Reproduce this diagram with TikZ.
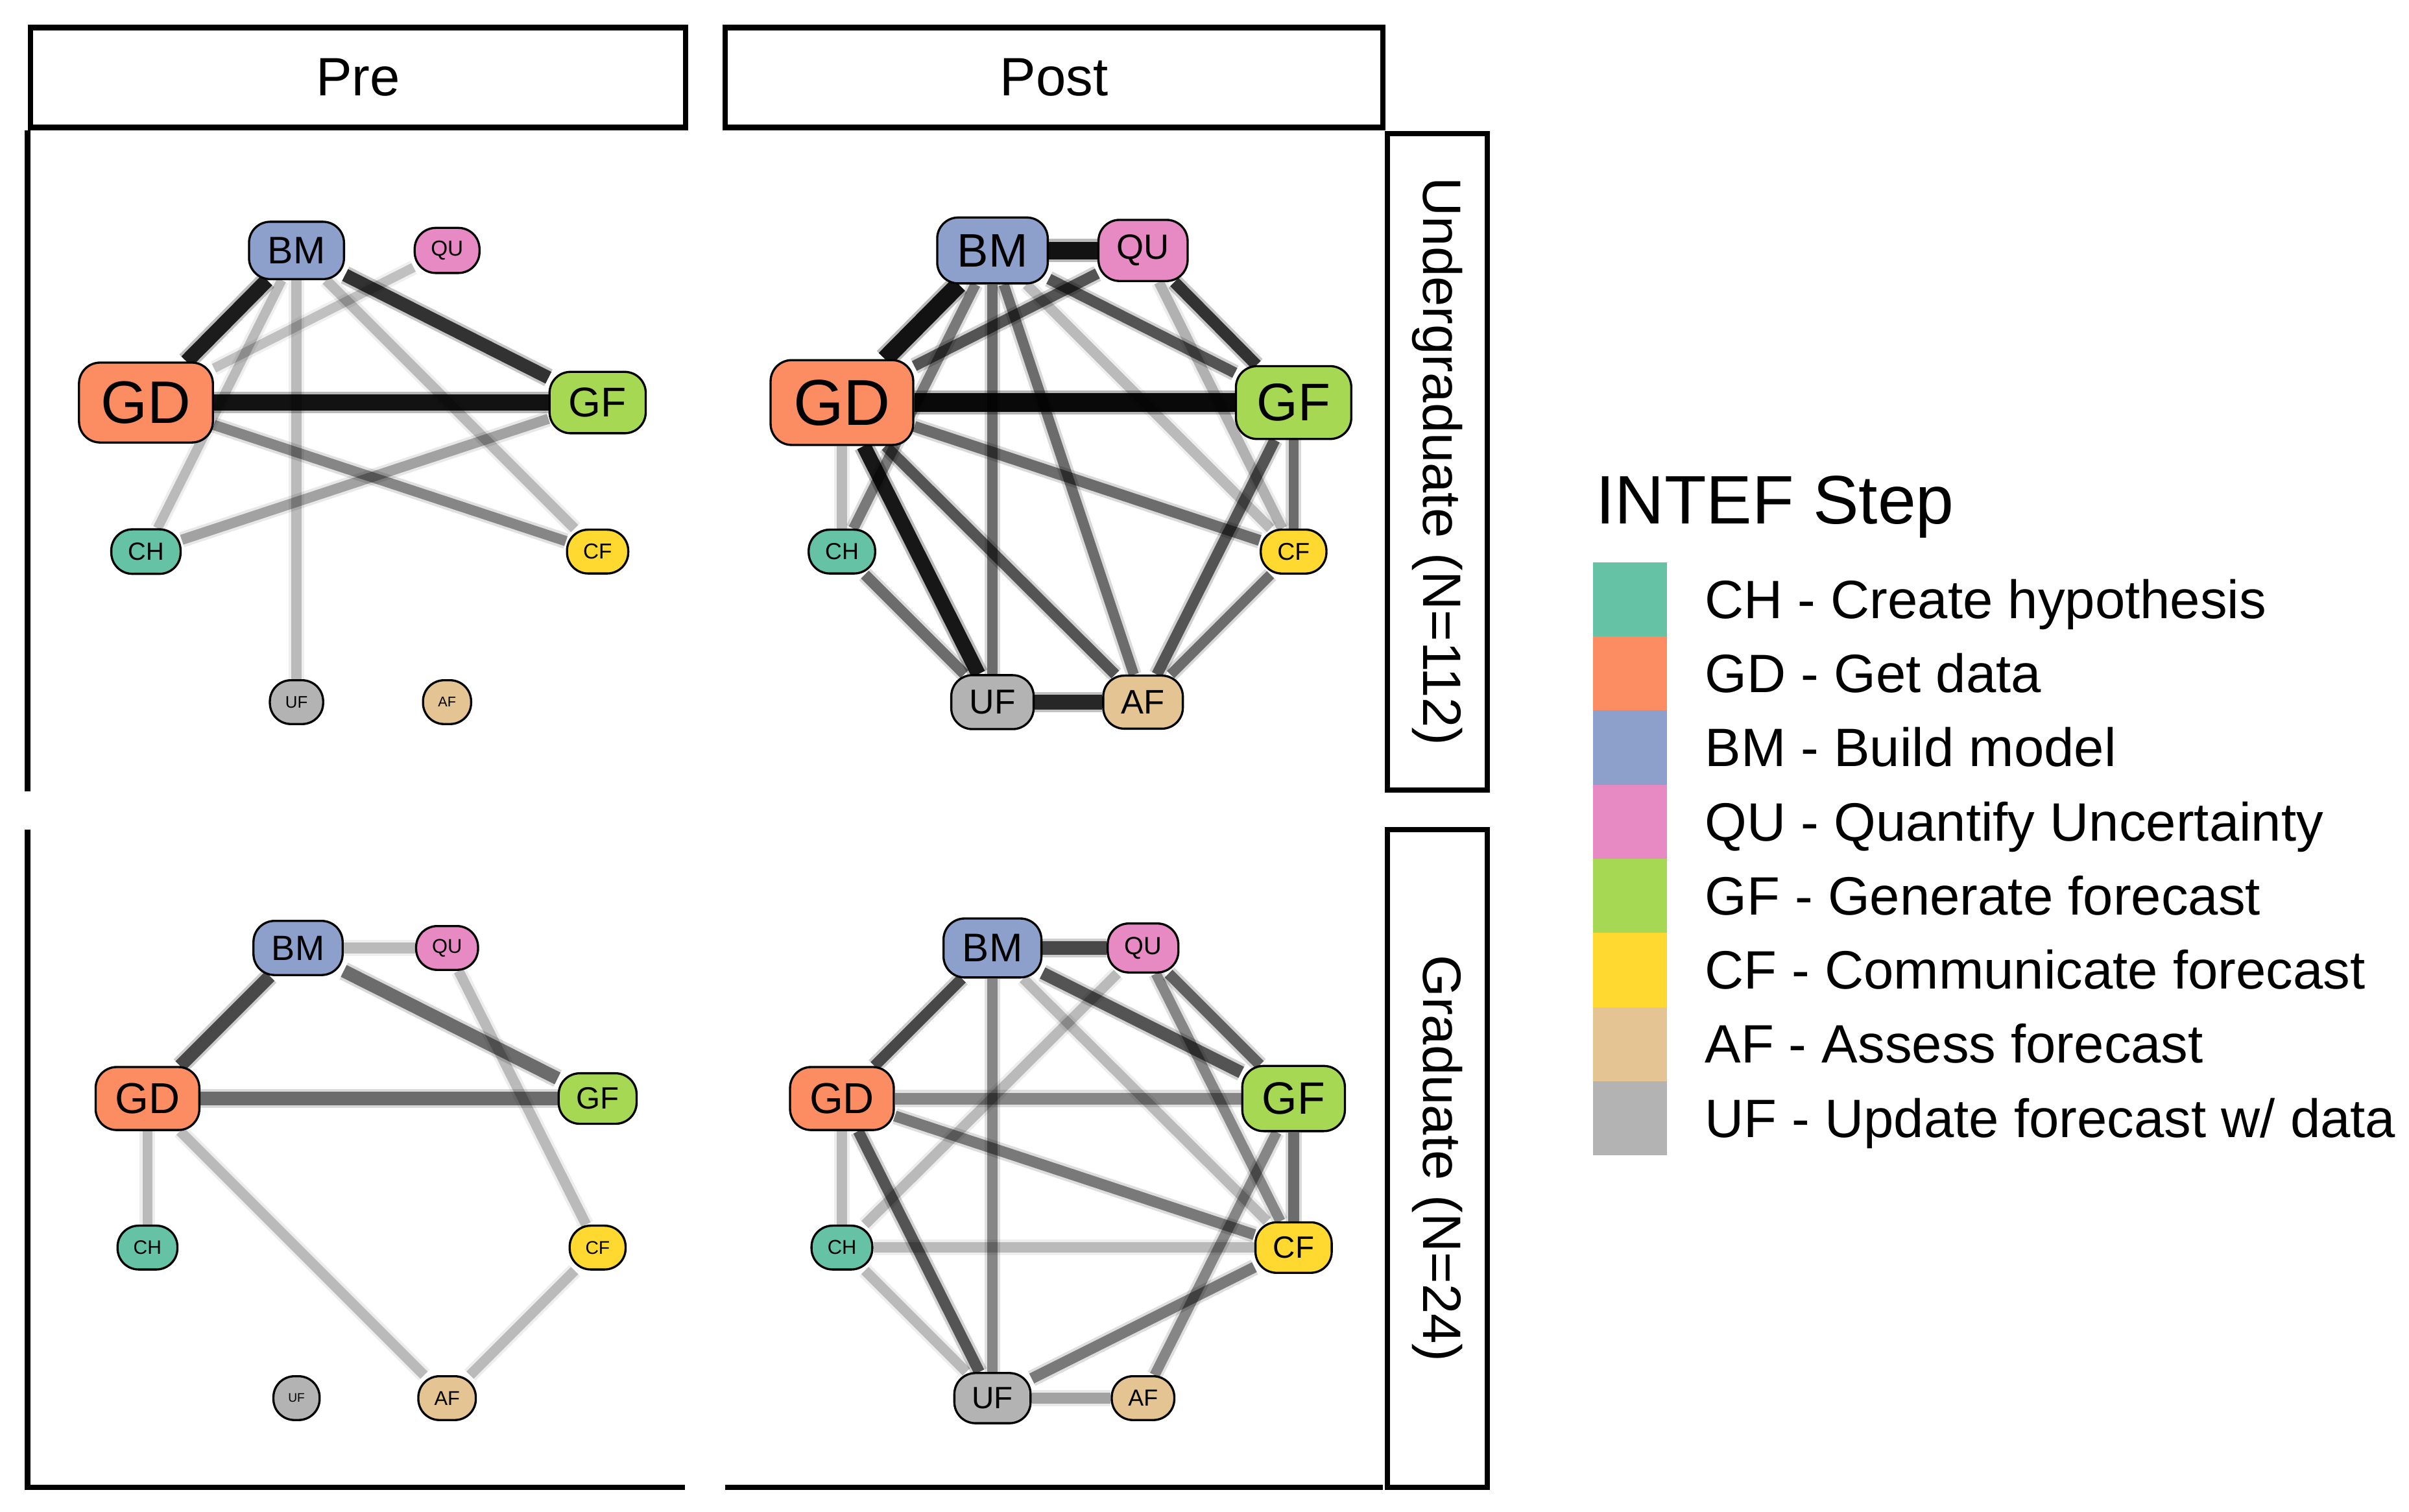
\documentclass[tikz,border=0pt]{standalone}
\usepackage{fontspec}
\setmainfont{Liberation Sans}
\usepackage{xcolor}
\usepackage{tikz}
\pgfdeclarelayer{bg}
\pgfsetlayers{bg,main}

\definecolor{chcol}{HTML}{66C2A5}
\definecolor{gdcol}{HTML}{FC8D62}
\definecolor{bmcol}{HTML}{8DA0CB}
\definecolor{qucol}{HTML}{E78AC3}
\definecolor{gfcol}{HTML}{A6D854}
\definecolor{cfcol}{HTML}{FFD92F}
\definecolor{afcol}{HTML}{E5C494}
\definecolor{ufcol}{HTML}{B3B3B3}

\begin{document}
\begin{tikzpicture}[x=0.01cm, y=-0.01cm,
	lab/.style 2 args={draw=black, line width=0.4pt, fill=#1, rounded corners=3.9pt,
		font=\fontsize{#2pt}{#2pt}\selectfont, inner xsep={2.4pt+0.15*#2pt},
		inner ysep={1.8pt+0.15*#2pt}, minimum height=0.285cm},
	ed/.style 2 args={draw=black, line width=1.35*#1pt, draw opacity=#2,
		preaction={draw=black, line width=1.35*#1pt+1pt, draw opacity=0.3*#2}},
	strip/.style={draw=black, line width=1pt, inner sep=0pt, font=\fontsize{10pt}{12pt}\selectfont},
	axis/.style={line width=1pt},
	key/.style={minimum width=0.48cm, minimum height=0.4825cm, inner sep=0pt},
	leglab/.style={anchor=base west, inner sep=0pt, font=\fontsize{10pt}{12pt}\selectfont}]
	\useasboundingbox (0,0) rectangle (1568,984);

	% strips and panel lines
	\node[strip, minimum width=4.26cm, minimum height=0.65cm] (hdrPre) at (233,50.5) {Pre};
	\node[strip, minimum width=4.28cm, minimum height=0.65cm] (hdrPost) at (686,50.5) {Post};
	\node[strip, rotate=-90, minimum width=4.27cm, minimum height=0.65cm] (stripUG) at (935.5,300.5) {Undergraduate (N=112)};
	\node[strip, rotate=-90, minimum width=4.28cm, minimum height=0.65cm] (stripG) at (935.5,754) {Graduate (N=24)};
	\draw[axis] (18,85) -- (18,515);
	\draw[axis] (18,540) -- (18,968) -- (446,968);
	\draw[axis] (472,968) -- (900,968);

	% undergraduate, pre
	\node[lab={bmcol}{7.1}] (uPreBM) at (193,163) {BM};
	\node[lab={qucol}{4.0}] (uPreQU) at (291,163) {QU};
	\node[lab={gdcol}{11.1}] (uPreGD) at (95,262) {GD};
	\node[lab={gfcol}{7.7}] (uPreGF) at (389,262) {GF};
	\node[lab={chcol}{4.6}] (uPreCH) at (95,359) {CH};
	\node[lab={cfcol}{4.0}] (uPreCF) at (389,359) {CF};
	\node[lab={ufcol}{3.1}] (uPreUF) at (193,457) {UF};
	\node[lab={afcol}{2.6}] (uPreAF) at (291,457) {AF};

	% undergraduate, post
	\node[lab={bmcol}{8.7}] (uPostBM) at (646,163) {BM};
	\node[lab={qucol}{6.5}] (uPostQU) at (744,163) {QU};
	\node[lab={gdcol}{12.0}] (uPostGD) at (548,262) {GD};
	\node[lab={gfcol}{9.8}] (uPostGF) at (842,262) {GF};
	\node[lab={chcol}{4.3}] (uPostCH) at (548,359) {CH};
	\node[lab={cfcol}{4.5}] (uPostCF) at (842,359) {CF};
	\node[lab={ufcol}{6.4}] (uPostUF) at (646,457) {UF};
	\node[lab={afcol}{6.3}] (uPostAF) at (744,457) {AF};

	% graduate, pre
	\node[lab={bmcol}{6.5}] (gPreBM) at (194,617) {BM};
	\node[lab={qucol}{3.7}] (gPreQU) at (291,617) {QU};
	\node[lab={gdcol}{8.0}] (gPreGD) at (96,715) {GD};
	\node[lab={gfcol}{5.7}] (gPreGF) at (389,715) {GF};
	\node[lab={chcol}{3.6}] (gPreCH) at (96,812) {CH};
	\node[lab={cfcol}{3.4}] (gPreCF) at (389,812) {CF};
	\node[lab={ufcol}{2.3}] (gPreUF) at (193,910) {UF};
	\node[lab={afcol}{3.7}] (gPreAF) at (291,910) {AF};

	% graduate, post
	\node[lab={bmcol}{7.4}] (gPostBM) at (646,617) {BM};
	\node[lab={qucol}{4.6}] (gPostQU) at (744,617) {QU};
	\node[lab={gdcol}{8.0}] (gPostGD) at (548,715) {GD};
	\node[lab={gfcol}{8.4}] (gPostGF) at (842,715) {GF};
	\node[lab={chcol}{3.7}] (gPostCH) at (548,812) {CH};
	\node[lab={cfcol}{5.7}] (gPostCF) at (842,812) {CF};
	\node[lab={ufcol}{5.7}] (gPostUF) at (646,910) {UF};
	\node[lab={afcol}{4.3}] (gPostAF) at (744,910) {AF};

	\begin{pgfonlayer}{bg}
		\draw[ed={2.0}{0.85}] (uPreBM) -- (uPreGD);
		\draw[ed={1.8}{0.75}] (uPreBM) -- (uPreGF);
		\draw[ed={2.2}{0.9}] (uPreGD) -- (uPreGF);
		\draw[ed={1.3}{0.2}] (uPreQU) -- (uPreGD);
		\draw[ed={1.3}{0.22}] (uPreBM) -- (uPreCH);
		\draw[ed={1.4}{0.22}] (uPreBM) -- (uPreUF);
		\draw[ed={1.4}{0.22}] (uPreBM) -- (uPreCF);
		\draw[ed={1.4}{0.4}] (uPreGD) -- (uPreCF);
		\draw[ed={1.4}{0.3}] (uPreGF) -- (uPreCH);

		\draw[ed={2.4}{0.9}] (uPostBM) -- (uPostQU);
		\draw[ed={2.4}{0.9}] (uPostBM) -- (uPostGD);
		\draw[ed={2.6}{0.95}] (uPostGD) -- (uPostGF);
		\draw[ed={1.5}{0.6}] (uPostBM) -- (uPostGF);
		\draw[ed={1.5}{0.6}] (uPostQU) -- (uPostGD);
		\draw[ed={1.6}{0.75}] (uPostQU) -- (uPostGF);
		\draw[ed={1.4}{0.25}] (uPostQU) -- (uPostCF);
		\draw[ed={1.4}{0.22}] (uPostBM) -- (uPostCF);
		\draw[ed={1.4}{0.5}] (uPostBM) -- (uPostUF);
		\draw[ed={1.4}{0.5}] (uPostBM) -- (uPostAF);
		\draw[ed={1.4}{0.45}] (uPostBM) -- (uPostCH);
		\draw[ed={1.4}{0.22}] (uPostGD) -- (uPostCH);
		\draw[ed={2.0}{0.88}] (uPostGD) -- (uPostUF);
		\draw[ed={1.5}{0.6}] (uPostGD) -- (uPostAF);
		\draw[ed={1.5}{0.5}] (uPostGD) -- (uPostCF);
		\draw[ed={1.5}{0.5}] (uPostCH) -- (uPostUF);
		\draw[ed={2.0}{0.8}] (uPostUF) -- (uPostAF);
		\draw[ed={1.4}{0.5}] (uPostGF) -- (uPostCF);
		\draw[ed={1.5}{0.6}] (uPostGF) -- (uPostAF);
		\draw[ed={1.4}{0.5}] (uPostCF) -- (uPostAF);

		\draw[ed={1.5}{0.22}] (gPreBM) -- (gPreQU);
		\draw[ed={1.8}{0.65}] (gPreBM) -- (gPreGD);
		\draw[ed={1.8}{0.5}] (gPreBM) -- (gPreGF);
		\draw[ed={1.8}{0.5}] (gPreGD) -- (gPreGF);
		\draw[ed={1.4}{0.22}] (gPreQU) -- (gPreCF);
		\draw[ed={1.4}{0.22}] (gPreGD) -- (gPreCH);
		\draw[ed={1.4}{0.22}] (gPreGD) -- (gPreAF);
		\draw[ed={1.4}{0.22}] (gPreCF) -- (gPreAF);

		\draw[ed={1.8}{0.65}] (gPostBM) -- (gPostQU);
		\draw[ed={1.5}{0.65}] (gPostBM) -- (gPostGD);
		\draw[ed={1.7}{0.6}] (gPostBM) -- (gPostGF);
		\draw[ed={1.5}{0.55}] (gPostQU) -- (gPostGF);
		\draw[ed={1.6}{0.4}] (gPostGD) -- (gPostGF);
		\draw[ed={1.4}{0.22}] (gPostQU) -- (gPostCH);
		\draw[ed={1.4}{0.4}] (gPostBM) -- (gPostUF);
		\draw[ed={1.4}{0.22}] (gPostBM) -- (gPostCF);
		\draw[ed={1.4}{0.4}] (gPostQU) -- (gPostCF);
		\draw[ed={1.5}{0.45}] (gPostGD) -- (gPostCF);
		\draw[ed={1.4}{0.22}] (gPostGD) -- (gPostCH);
		\draw[ed={1.5}{0.6}] (gPostGD) -- (gPostUF);
		\draw[ed={1.4}{0.22}] (gPostCH) -- (gPostCF);
		\draw[ed={1.4}{0.22}] (gPostCH) -- (gPostUF);
		\draw[ed={1.5}{0.45}] (gPostUF) -- (gPostCF);
		\draw[ed={1.5}{0.3}] (gPostUF) -- (gPostAF);
		\draw[ed={1.4}{0.4}] (gPostAF) -- (gPostGF);
		\draw[ed={1.5}{0.5}] (gPostGF) -- (gPostCF);
	\end{pgfonlayer}

	% legend
	\node[anchor=base west, inner sep=0pt, font=\fontsize{12.7pt}{15pt}\selectfont] (legTitle) at (1038,341) {INTEF Step};
	\node[key, fill=chcol] (keyCH) at (1061,390.1) {};
	\node[key, fill=gdcol] (keyGD) at (1061,438.4) {};
	\node[key, fill=bmcol] (keyBM) at (1061,486.6) {};
	\node[key, fill=qucol] (keyQU) at (1061,534.9) {};
	\node[key, fill=gfcol] (keyGF) at (1061,583.1) {};
	\node[key, fill=cfcol] (keyCF) at (1061,631.4) {};
	\node[key, fill=afcol] (keyAF) at (1061,679.6) {};
	\node[key, fill=ufcol] (keyUF) at (1061,727.9) {};
	\node[leglab] (labCH) at (1109,402.4) {CH - Create hypothesis};
	\node[leglab] (labGD) at (1109,450.7) {GD - Get data};
	\node[leglab] (labBM) at (1109,498.9) {BM - Build model};
	\node[leglab] (labQU) at (1109,547.2) {QU - Quantify Uncertainty};
	\node[leglab] (labGF) at (1109,595.4) {GF - Generate forecast};
	\node[leglab] (labCF) at (1109,643.7) {CF - Communicate forecast};
	\node[leglab] (labAF) at (1109,691.9) {AF - Assess forecast};
	\node[leglab] (labUF) at (1109,740.2) {UF - Update forecast w/ data};
\end{tikzpicture}
\end{document}
